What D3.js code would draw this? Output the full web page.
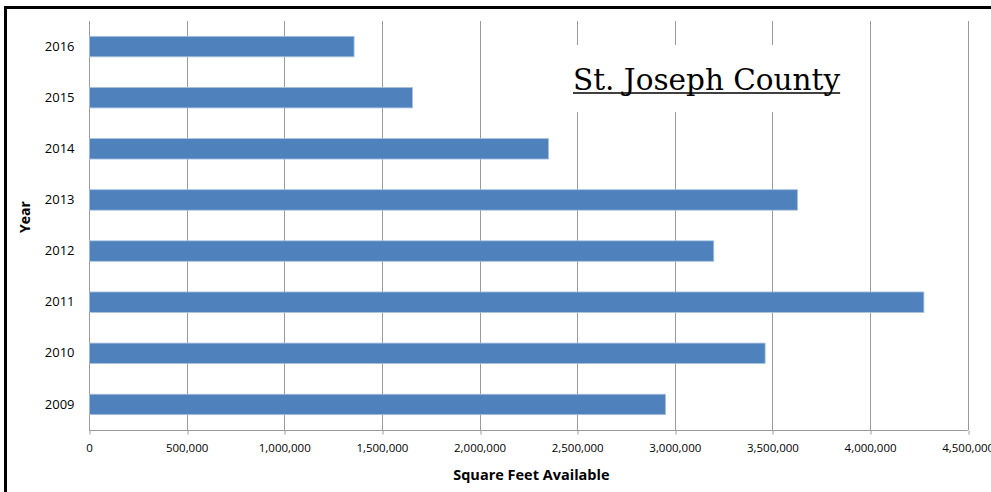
<!DOCTYPE html>
<html>
<head>
<meta charset="utf-8">
<script src="https://cdn.jsdelivr.net/npm/d3@7"></script>
<style>
  html, body { margin: 0; padding: 0; background: #fff; }
  svg { display: block; }
  text { font-family: "Open Sans", "Liberation Sans", sans-serif; fill: #000; }
</style>
</head>
<body>
<svg id="chart" width="991" height="492"></svg>
<script>
// Available square footage by year
const years = ["2016", "2015", "2014", "2013", "2012", "2011", "2010", "2009"];
const squareFeet = [1355000, 1654000, 2351000, 3626000, 3197000, 4273000, 3460000, 2950000];
const xTicks = [0, 500000, 1000000, 1500000, 2000000, 2500000, 3000000, 3500000, 4000000, 4500000];
const titleText = "St. Joseph County";
const xTitle = "Square Feet Available";
const yTitle = "Year";

const svg = d3.select("#chart");
const W = 991, H = 492;
const plot = { left: 89, right: 967.7, top: 21, bottom: 430 };

// outer frame (left and top edges visible)
svg.append("rect")
  .attr("x", 5.5).attr("y", 7.5)
  .attr("width", W + 20).attr("height", H + 20)
  .attr("fill", "#fff").attr("stroke", "#000").attr("stroke-width", 3);

const x = d3.scaleLinear().domain([0, 4500000]).range([plot.left, plot.right]);
const y = d3.scaleBand().domain(years).range([plot.top, plot.bottom])
  .paddingInner(0.6).paddingOuter(0.3);

// vertical gridlines
svg.append("g").selectAll("line")
  .data(xTicks.slice(1))
  .join("line")
  .attr("x1", d => Math.round(x(d)) + 0.5).attr("x2", d => Math.round(x(d)) + 0.5)
  .attr("y1", plot.top).attr("y2", plot.bottom)
  .attr("stroke", "#9a9a9a").attr("stroke-width", 1);

// x axis
const xAxis = d3.axisBottom(x)
  .tickValues(xTicks)
  .tickFormat(d3.format(","))
  .tickSize(4).tickPadding(9);
const gx = svg.append("g")
  .attr("transform", `translate(0,${plot.bottom + 0.5})`)
  .call(xAxis);
gx.select(".domain").attr("stroke", "#9a9a9a").attr("d", `M${plot.left},0H${plot.right}`);
gx.selectAll(".tick line").attr("stroke", "#9a9a9a")
  .attr("transform", d => `translate(${Math.round(x(d)) + 0.5 - x(d)},0)`);
gx.selectAll(".tick text").attr("font-size", "11.5px")
  .attr("font-family", "\"Open Sans\", sans-serif").attr("fill", "#000");

// y axis
const yAxis = d3.axisLeft(y).tickSize(0).tickPadding(15);
const gy = svg.append("g")
  .attr("transform", `translate(${plot.left + 0.5},0)`)
  .call(yAxis);
gy.select(".domain").attr("stroke", "#9a9a9a").attr("d", `M0,${plot.top}V${plot.bottom}`);
gy.selectAll(".tick text").attr("font-size", "13px")
  .attr("font-family", "\"Open Sans\", sans-serif").attr("fill", "#000");

// bars
svg.append("g").selectAll("rect")
  .data(years.map((yr, i) => ({ yr, v: squareFeet[i] })))
  .join("rect")
  .attr("x", x(0) + 0.5)
  .attr("y", d => y(d.yr))
  .attr("width", d => x(d.v) - x(0))
  .attr("height", y.bandwidth())
  .attr("fill", "#4f81bd")
  .attr("stroke", "#a9c1df").attr("stroke-width", 0.8);

// title box and title
const titleX = 573, titleBase = 90;
svg.append("rect")
  .attr("x", 560).attr("y", 45).attr("width", 294).attr("height", 67)
  .attr("fill", "#fff");
const t = svg.append("text")
  .attr("x", titleX).attr("y", titleBase)
  .attr("font-size", "29.5px")
  .style("font-family", "\"DejaVu Serif\", serif")
  .text(titleText);
const tw = t.node().getComputedTextLength();
svg.append("line")
  .attr("x1", titleX).attr("x2", titleX + tw)
  .attr("y1", titleBase + 3).attr("y2", titleBase + 3)
  .attr("stroke", "#000").attr("stroke-width", 1.5);

// axis titles
svg.append("text")
  .attr("x", (plot.left + plot.right) / 2 + 3).attr("y", 480)
  .attr("text-anchor", "middle")
  .attr("font-size", "14.5px").attr("font-weight", "bold")
  .text(xTitle);

svg.append("text")
  .attr("transform", "translate(30,217) rotate(-90)")
  .attr("text-anchor", "middle")
  .attr("font-size", "14px").attr("font-weight", "bold")
  .text(yTitle);
</script>
</body>
</html>
